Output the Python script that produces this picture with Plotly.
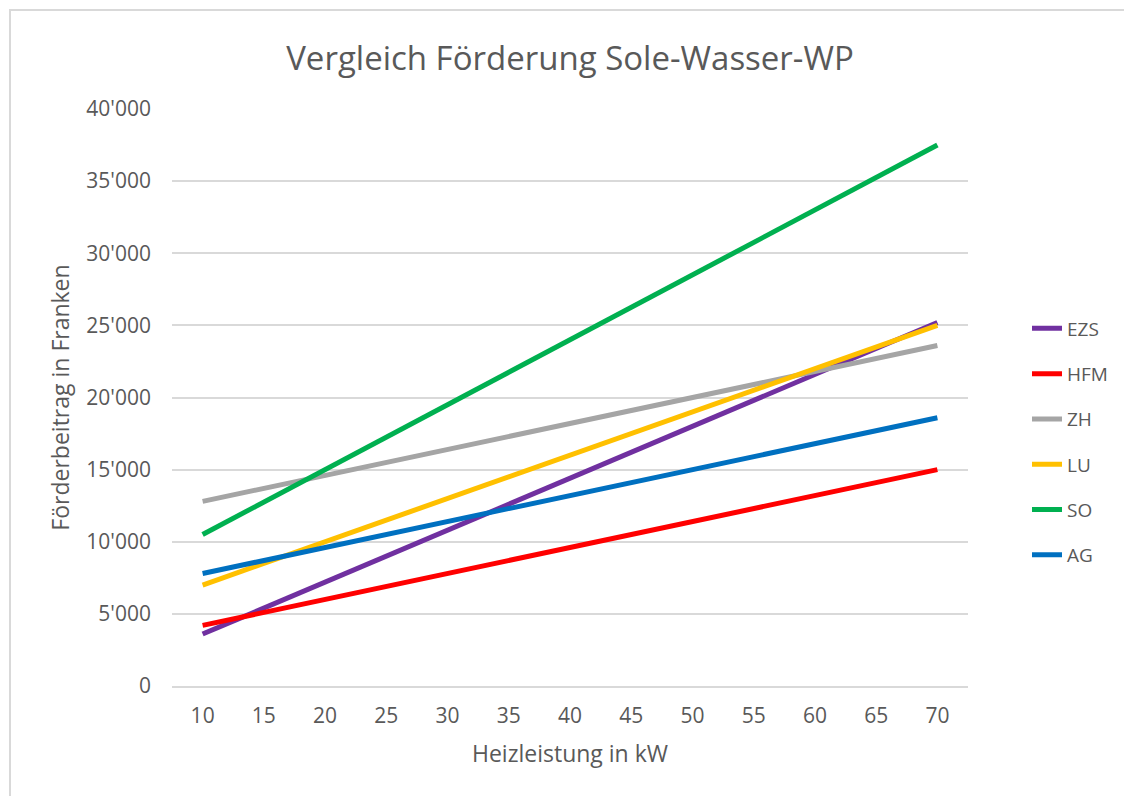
import plotly.graph_objects as go

kw = [10, 15, 20, 25, 30, 35, 40, 45, 50, 55, 60, 65, 70]

ezs = [3600, 5400, 7200, 9000, 10800, 12600, 14400, 16200, 18000, 19800, 21600, 23400, 25200]
hfm = [4200, 5100, 6000, 6900, 7800, 8700, 9600, 10500, 11400, 12300, 13200, 14100, 15000]
zh = [12800, 13700, 14600, 15500, 16400, 17300, 18200, 19100, 20000, 20900, 21800, 22700, 23600]
lu = [7000, 8500, 10000, 11500, 13000, 14500, 16000, 17500, 19000, 20500, 22000, 23500, 25000]
so = [10500, 12750, 15000, 17250, 19500, 21750, 24000, 26250, 28500, 30750, 33000, 35250, 37500]
ag = [7800, 8700, 9600, 10500, 11400, 12300, 13200, 14100, 15000, 15900, 16800, 17700, 18600]

series = [
    ("EZS", ezs, "#7030A0"),
    ("HFM", hfm, "#FF0000"),
    ("ZH", zh, "#A5A5A5"),
    ("LU", lu, "#FFC000"),
    ("SO", so, "#00B050"),
    ("AG", ag, "#0070C0"),
]

FONT = "Open Sans"
GRAY = "#595959"

fig = go.Figure()
for name, vals, col in series:
    fig.add_trace(go.Scatter(
        x=kw, y=vals, name=name, mode="lines", legendgroup=name,
        line=dict(color=col, width=5),
    ))

# page has an 8px body margin; figure coordinates = page - 8
W, H = 1124, 788
L, R, T, B = 164, 164, 101, 110
pw, ph = W - L - R, H - T - B

fig.update_layout(
    width=W, height=H,
    margin=dict(l=L, r=R, t=T, b=B),
    paper_bgcolor="white", plot_bgcolor="white",
    separators=".'",
    font=dict(family=FONT, color=GRAY),
    title=dict(text="Vergleich Förderung Sole-Wasser-WP", x=0.5, xanchor="center",
               y=1 - 50 / H, yanchor="middle",
               font=dict(size=33, color=GRAY, family=FONT)),
    xaxis=dict(range=[7.5, 72.5], tickmode="array", tickvals=kw,
               showgrid=False, zeroline=False, showline=True,
               linecolor="#D9D9D9", linewidth=1.5, ticks="", ticklabelstandoff=10,
               tickfont=dict(size=21, color=GRAY),
               title=dict(text="Heizleistung in kW", font=dict(size=23, color=GRAY), standoff=18)),
    yaxis=dict(range=[0, 40000], tickmode="linear", tick0=0, dtick=5000,
               tickformat=",d", showgrid=True, gridcolor="#D9D9D9", gridwidth=1.5,
               zeroline=False, showline=False, ticks="", ticklabelstandoff=20,
               tickfont=dict(size=21, color=GRAY),
               title=dict(text="Förderbeitrag in Franken", font=dict(size=23, color=GRAY), standoff=10)),
    legend=dict(x=(1019 - L) / pw, xanchor="left", y=(678 - 434) / ph, yanchor="middle",
                font=dict(size=19, color=GRAY), tracegroupgap=17.6,
                bgcolor="rgba(0,0,0,0)", itemwidth=30),
    shapes=[dict(type="rect", xref="paper", yref="paper",
                 x0=(2 - L) / pw, x1=(1140 - L) / pw,
                 y0=(678 - 820) / ph, y1=(678 - 2) / ph,
                 line=dict(color="#D9D9D9", width=2), layer="below")],
)

fig.write_html("out.html")
